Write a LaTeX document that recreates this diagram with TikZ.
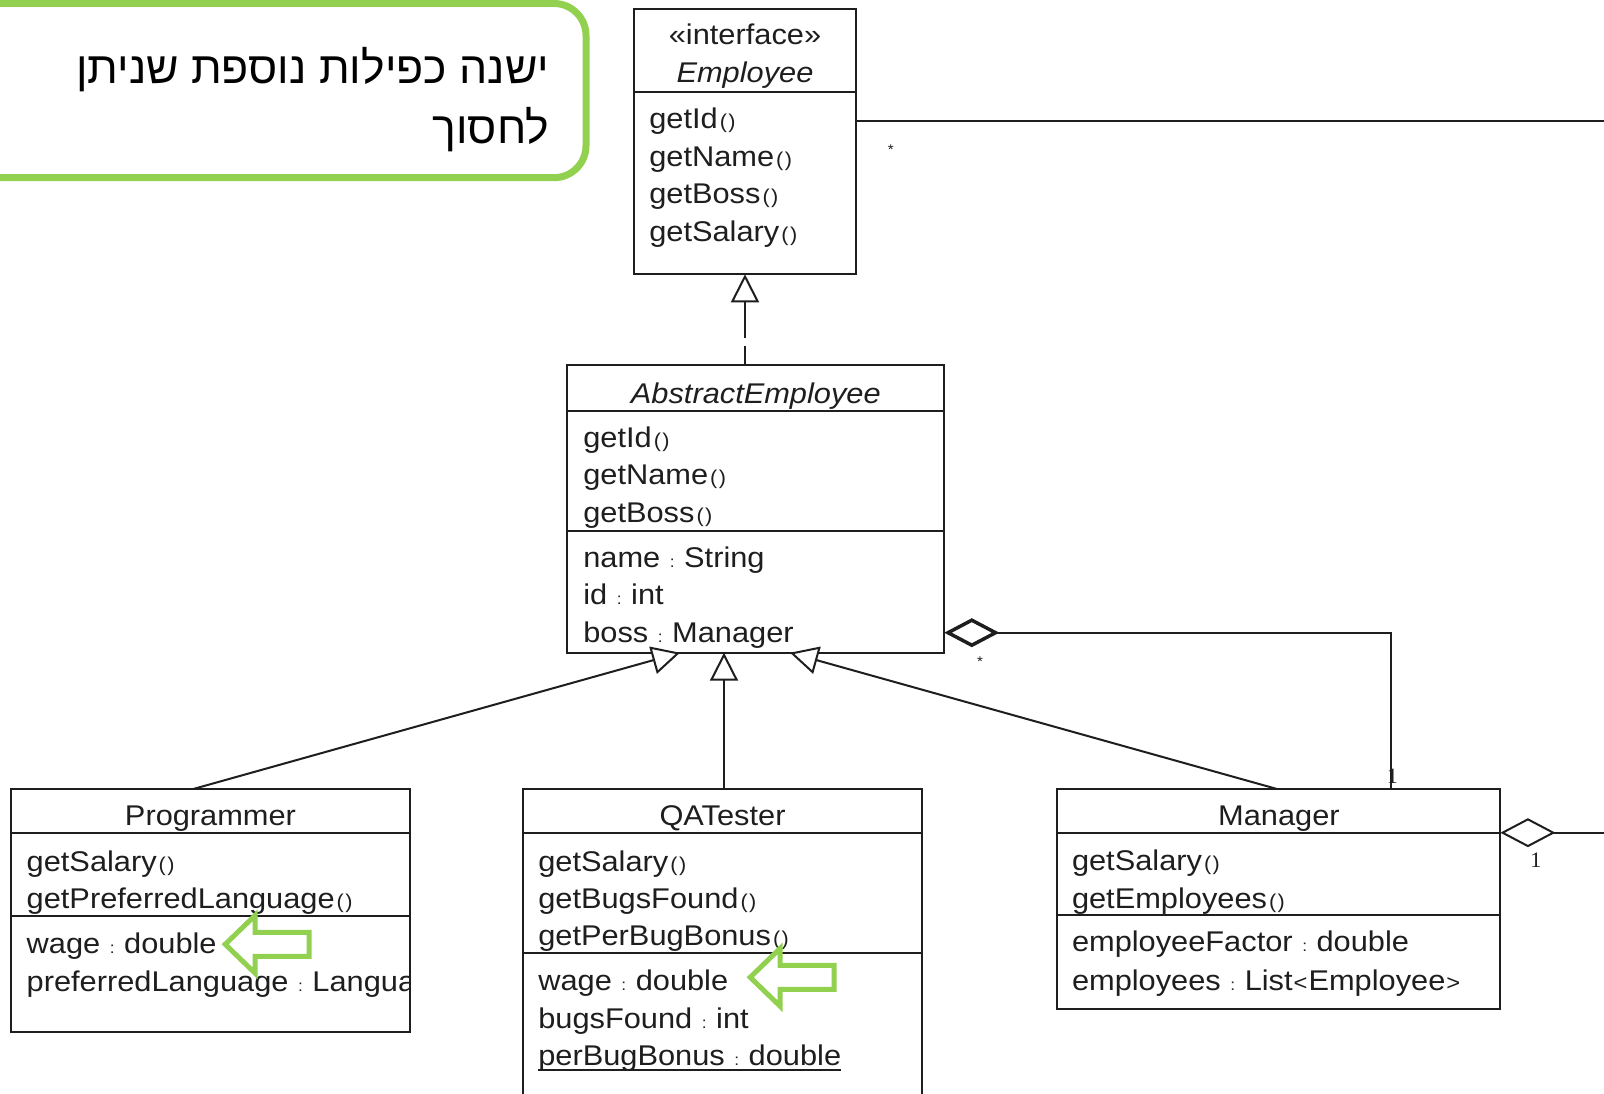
\documentclass[tikz,border=0pt]{standalone}
\usepackage{fontspec}
\setmainfont{Liberation Sans}
\newfontfamily\umlfont[FakeStretch=1.08]{Liberation Sans}
\newfontfamily\hebfont[Script=Hebrew]{Liberation Sans}
\newfontfamily\multfont{Liberation Serif}
\TeXXeTstate=1
\usetikzlibrary{arrows.meta}
\definecolor{callgreen}{RGB}{146,208,80}
\definecolor{umlline}{RGB}{30,30,30}
\newcommand\umlpar{{\fontsize{20}{20}\selectfont\kern2pt(\kern1.5pt)}}
\newcommand\umlcol{{\fontsize{16}{16}\selectfont\kern1pt:\kern1pt}}
\newcommand\umllt{{\fontsize{22}{22}\selectfont\kern1pt<\kern1pt}}
\newcommand\umlgt{{\fontsize{22}{22}\selectfont\kern1pt>}}
\tikzset{
  umlbox/.style={draw=umlline, line width=2pt, inner sep=0pt, outer sep=0pt, anchor=north west},
  txt/.style={inner sep=0pt, outer sep=0pt, anchor=base west, text=umlline, font=\umlfont\fontsize{28.5}{34}\selectfont},
  ttl/.style={txt, anchor=base},
  divline/.style={draw=umlline, line width=2pt},
  conn/.style={draw=umlline, line width=2pt},
  gen/.style={conn, -{Triangle[open, length=28pt, width=28pt, fill=white]}},
  real/.style={conn, dash pattern=on 36pt off 8pt, {Triangle[open, length=28pt, width=28pt, fill=white]}-},
  aggA/.style={conn, {Diamond[open, length=55pt, width=29pt, line width=3.5pt]}-},
  aggB/.style={conn, {Diamond[open, length=55pt, width=29pt]}-},
  mult/.style={inner sep=0pt, outer sep=0pt, text=umlline, font=\multfont\fontsize{22}{22}\selectfont},
  star/.style={inner sep=0pt, outer sep=0pt, text=umlline, font=\umlfont\fontsize{14}{14}\selectfont},
  garrow/.style={draw=callgreen, line width=5pt, line join=miter},
  callout/.style={draw=callgreen, line width=7pt, rounded corners=32pt},
  heb/.style={inner sep=0pt, outer sep=0pt, anchor=base east, font=\hebfont\fontsize{44.5}{52}\selectfont}
}
\begin{document}
\begin{tikzpicture}[x=1pt, y=-1pt]
\useasboundingbox (0,0) rectangle (1604,1094);
\clip (0,0) rectangle (1604,1094);
\fill[white] (0,0) rectangle (1604,1094);

% callout
\draw[callout] (-60,3.5) rectangle (586,177.7);
\node[heb] (note1) at (549,84) {\beginR ישנה כפילות נוספת שניתן\endR};
\node[heb] (note2) at (549,144) {\beginR לחסוך\endR};

% Employee interface
\node[umlbox, minimum width=221.4pt, minimum height=265pt] (emp) at (634.3,9.3) {};
\draw[divline] ([yshift=-82.4pt]emp.north west) -- ([yshift=-82.4pt]emp.north east);
\node[ttl] (empS) at (745,45) {«interface»};
\node[ttl] (empT) at (745,83) {\itshape Employee};
\node[txt] (emp1) at (649.3,129) {getId\umlpar};
\node[txt] (emp2) at (649.3,166.5) {getName\umlpar};
\node[txt] (emp3) at (649.3,204) {getBoss\umlpar};
\node[txt] (emp4) at (649.3,241.5) {getSalary\umlpar};

% AbstractEmployee
\node[umlbox, minimum width=377pt, minimum height=287.7pt] (ae) at (567.3,365) {};
\draw[divline] ([yshift=-45.7pt]ae.north west) -- ([yshift=-45.7pt]ae.north east);
\draw[divline] ([yshift=-165.7pt]ae.north west) -- ([yshift=-165.7pt]ae.north east);
\node[ttl] (aeT) at (755.8,403) {\itshape AbstractEmployee};
\node[txt] (ae1) at (583.3,447) {getId\umlpar};
\node[txt] (ae2) at (583.3,484.5) {getName\umlpar};
\node[txt] (ae3) at (583.3,522) {getBoss\umlpar};
\node[txt] (ae4) at (583.3,567) {name \umlcol\ String};
\node[txt] (ae5) at (583.3,604.5) {id \umlcol\ int};
\node[txt] (ae6) at (583.3,642) {boss \umlcol\ Manager};

% Programmer
\node[umlbox, minimum width=399pt, minimum height=242.7pt] (prog) at (11,789) {};
\draw[divline] ([yshift=-43.7pt]prog.north west) -- ([yshift=-43.7pt]prog.north east);
\draw[divline] ([yshift=-126.7pt]prog.north west) -- ([yshift=-126.7pt]prog.north east);
\node[ttl] (progT) at (210.5,825) {Programmer};
\node[txt] (prog1) at (26.7,871) {getSalary\umlpar};
\node[txt] (prog2) at (26.7,908) {getPreferredLanguage\umlpar};
\node[txt] (prog3) at (26.7,953) {wage \umlcol\ double};
\begin{scope}
\clip (11,900) rectangle (409,1030);
\node[txt] (prog4) at (26.7,991) {preferredLanguage \umlcol\ Language};
\end{scope}

% QATester
\node[umlbox, minimum width=398.4pt, minimum height=340pt] (qa) at (523.3,789) {};
\draw[divline] ([yshift=-43.7pt]qa.north west) -- ([yshift=-43.7pt]qa.north east);
\draw[divline] ([yshift=-163.7pt]qa.north west) -- ([yshift=-163.7pt]qa.north east);
\node[ttl] (qaT) at (722.5,825) {QATester};
\node[txt] (qa1) at (538.3,871) {getSalary\umlpar};
\node[txt] (qa2) at (538.3,908) {getBugsFound\umlpar};
\node[txt] (qa3) at (538.3,945) {getPerBugBonus\umlpar};
\node[txt] (qa4) at (538.3,990) {wage \umlcol\ double};
\node[txt] (qa5) at (538.3,1028) {bugsFound \umlcol\ int};
\node[txt] (qa6) at (538.3,1065) {perBugBonus \umlcol\ double};
\draw[umlline, line width=1.6pt] ([yshift=-5pt]qa6.base west) -- ([yshift=-5pt]qa6.base east);

% Manager
\node[umlbox, minimum width=443.1pt, minimum height=219.5pt] (mgr) at (1057.3,789) {};
\draw[divline] ([yshift=-43.7pt]mgr.north west) -- ([yshift=-43.7pt]mgr.north east);
\draw[divline] ([yshift=-126pt]mgr.north west) -- ([yshift=-126pt]mgr.north east);
\node[ttl] (mgrT) at (1278.9,825) {Manager};
\node[txt] (mgr1) at (1072,870) {getSalary\umlpar};
\node[txt] (mgr2) at (1072,908) {getEmployees\umlpar};
\node[txt] (mgr3) at (1072,951.5) {employeeFactor \umlcol\ double};
\node[txt] (mgr4) at (1072,990) {employees \umlcol\ List\umllt Employee\umlgt};

% connectors
\draw[real] (emp.south) -- (emp.south |- ae.north);
\draw[gen] ([xshift=182.3pt]prog.north west) -- ([xshift=112.7pt]ae.south west);
\draw[gen] ([xshift=200.7pt]qa.north west) -- ([xshift=156.7pt]ae.south west);
\draw[gen] ([xshift=219.7pt]mgr.north west) -- ([xshift=222.7pt]ae.south west);

\coordinate (empEnd) at (1660,121);
\draw[conn] ([yshift=-111.7pt]emp.north east) -- (empEnd);
\node[star] (empStar) at (890.7,150) {*};

\draw[aggA] ([yshift=20pt]ae.south east) -| ([xshift=334pt]mgr.north west);
\node[star] (aeStar) at (980,661.7) {*};
\node[mult] (bossOne) at (1392.4,776.7) {1};

\coordinate (mgrEnd) at (1660,832.7);
\draw[aggB] ([yshift=-43.7pt]mgr.north east) -- (mgrEnd);
\node[mult] (mgrOne) at (1535.8,860) {1};

% green highlight arrows
\draw[garrow] (225.2,944.3) -- ++(30,-29) -- ++(0,17) -- ++(54,0) -- ++(0,24) -- ++(-54,0) -- ++(0,17) -- cycle;
\draw[garrow] (750.2,977.3) -- ++(30,-29) -- ++(0,17) -- ++(54,0) -- ++(0,24) -- ++(-54,0) -- ++(0,17) -- cycle;
\end{tikzpicture}
\end{document}
